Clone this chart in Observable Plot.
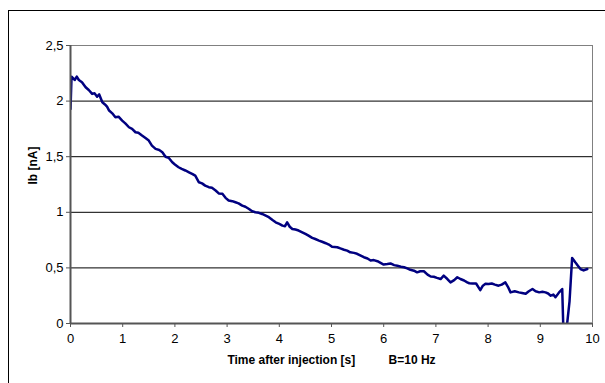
<!DOCTYPE html>
<html>
<head>
<meta charset="utf-8">
<script src="https://cdn.jsdelivr.net/npm/d3@7"></script>
<script src="https://cdn.jsdelivr.net/npm/@observablehq/plot@0.6"></script>
<style>
  html, body { margin: 0; padding: 0; background: #fff; }
  #wrap { position: relative; width: 605px; height: 383px; overflow: hidden; }
  #border { position: absolute; left: 8px; top: 10px; right: -2px; bottom: -2px; border-left: 1px solid #000; border-top: 1px solid #000; }
  #chart { position: absolute; left: 0; top: 0; }
</style>
</head>
<body>
<div id="wrap"><div id="border"></div><div id="chart"></div></div>
<script>
// Time after injection [s]
const times = [
  0, 0.02, 0.08, 0.12, 0.16, 0.22, 0.29, 0.35, 0.415, 0.46, 0.51, 0.55, 0.61, 0.66, 0.70, 0.74, 0.80, 0.86, 0.92, 0.99,
  1.05, 1.12, 1.18, 1.245, 1.30, 1.37, 1.43, 1.5, 1.56, 1.63, 1.70, 1.76, 1.82, 1.88, 1.95, 2.0, 2.07, 2.13, 2.2, 2.27,
  2.33, 2.39, 2.46, 2.52, 2.58, 2.65, 2.71, 2.78, 2.84, 2.91, 2.97, 3.03, 3.10, 3.16, 3.22, 3.29, 3.35, 3.42, 3.48, 3.54,
  3.61, 3.67, 3.74, 3.8, 3.87, 3.93, 4.0, 4.06, 4.11, 4.15, 4.20, 4.25, 4.31, 4.37, 4.44, 4.5, 4.56, 4.63, 4.69, 4.76,
  4.82, 4.89, 4.95, 5.01, 5.11, 5.17, 5.24, 5.30, 5.36, 5.43, 5.49, 5.56, 5.62, 5.69, 5.75, 5.81, 5.88, 5.94, 6.0, 6.07,
  6.13, 6.2, 6.26, 6.33, 6.39, 6.45, 6.51, 6.58, 6.64, 6.70, 6.77, 6.84, 6.9, 6.96, 7.02, 7.09, 7.15, 7.22, 7.28, 7.35,
  7.41, 7.47, 7.54, 7.60, 7.64, 7.7, 7.77, 7.85, 7.9, 7.95, 8.01, 8.07, 8.13, 8.2, 8.26, 8.33, 8.38, 8.43, 8.51, 8.59,
  8.65, 8.72, 8.78, 8.85, 8.91, 8.98, 9.04, 9.1, 9.15, 9.2, 9.25, 9.29, 9.33, 9.36, 9.42, 9.44, 9.51, 9.56, 9.61, 9.67,
  9.72, 9.77, 9.83, 9.9
];
// Ib [nA]
const currents = [
  1.93, 2.22, 2.19, 2.22, 2.19, 2.17, 2.125, 2.10, 2.065, 2.07, 2.04, 2.06, 1.99, 1.97, 1.95, 1.915, 1.89, 1.855, 1.86, 1.825,
  1.80, 1.765, 1.75, 1.72, 1.715, 1.69, 1.67, 1.645, 1.60, 1.57, 1.56, 1.54, 1.50, 1.49, 1.45, 1.43, 1.405, 1.39, 1.376, 1.36,
  1.346, 1.33, 1.27, 1.26, 1.24, 1.226, 1.22, 1.196, 1.17, 1.166, 1.13, 1.106, 1.10, 1.09, 1.08, 1.06, 1.05, 1.03, 1.01, 1.0,
  0.995, 0.985, 0.97, 0.956, 0.93, 0.91, 0.895, 0.88, 0.875, 0.91, 0.87, 0.85, 0.845, 0.836, 0.82, 0.806, 0.79, 0.77, 0.76, 0.746,
  0.735, 0.722, 0.71, 0.69, 0.686, 0.675, 0.663, 0.655, 0.64, 0.635, 0.627, 0.61, 0.596, 0.585, 0.567, 0.57, 0.56, 0.545, 0.53, 0.535,
  0.54, 0.525, 0.52, 0.51, 0.506, 0.495, 0.483, 0.475, 0.46, 0.47, 0.47, 0.44, 0.423, 0.42, 0.41, 0.40, 0.43, 0.40, 0.37, 0.39,
  0.416, 0.40, 0.387, 0.37, 0.362, 0.36, 0.36, 0.30, 0.34, 0.357, 0.355, 0.36, 0.35, 0.34, 0.35, 0.37, 0.33, 0.28, 0.29, 0.28,
  0.275, 0.267, 0.29, 0.31, 0.29, 0.28, 0.285, 0.28, 0.27, 0.25, 0.26, 0.236, 0.26, 0.28, 0.31, -0.02, -0.02, 0.20, 0.59, 0.55,
  0.52, 0.49, 0.477, 0.49
];
const xTicks = [0, 1, 2, 3, 4, 5, 6, 7, 8, 9, 10];
const xTickLabels = ["0", "1", "2", "3", "4", "5", "6", "7", "8", "9", "10"];
const yTicks = [0, 0.5, 1, 1.5, 2, 2.5];
const yTickLabels = ["0", "0,5", "1", "1,5", "2", "2,5"];
const gridValues = [0.5, 1, 1.5, 2];
const xLabel = "Time after injection [s]\u00a0\u00a0\u00a0\u00a0\u00a0\u00a0\u00a0\u00a0\u00a0\u00a0B=10 Hz";
const yLabel = "Ib [nA]";

const data = times.map((t, i) => ({t, ib: currents[i]}));
const xFmt = new Map(xTicks.map((v, i) => [v, xTickLabels[i]]));
const yFmt = new Map(yTicks.map((v, i) => [v, yTickLabels[i]]));

const chart = Plot.plot({
  width: 605,
  height: 383,
  marginLeft: 70,
  marginRight: 13,
  marginTop: 45,
  marginBottom: 60,
  style: {fontFamily: "'Liberation Sans', Arial, sans-serif", fontSize: "13px", background: "transparent", color: "#000"},
  x: {domain: [0, 10]},
  y: {domain: [0, 2.5]},
  marks: [
    Plot.ruleY(gridValues, {stroke: "#000", strokeWidth: 1}),
    Plot.ruleY([2.5], {stroke: "#808080", strokeWidth: 1}),
    Plot.ruleX([10], {stroke: "#808080", strokeWidth: 1}),
    Plot.line(data, {x: "t", y: "ib", stroke: "#000080", strokeWidth: 2.5, clip: true, strokeLinejoin: "round"}),
    Plot.ruleX([0], {stroke: "#555", strokeWidth: 2}),
    Plot.ruleY([0], {stroke: "#555", strokeWidth: 2}),
    Plot.axisX({ticks: xTicks, tickSize: 4, tickPadding: 6, tickFormat: d => xFmt.get(d), label: null, stroke: "#555"}),
    Plot.axisY({ticks: yTicks, tickSize: 4, tickPadding: 3, tickFormat: d => yFmt.get(d), label: null, stroke: "#555"}),
    Plot.text([xLabel], {text: d => d, frameAnchor: "bottom", dy: 40, fontWeight: "bold", fontSize: 12}),
    Plot.text([yLabel], {text: d => d, frameAnchor: "left", dx: -37, rotate: -90, fontWeight: "bold", fontSize: 12})
  ]
});
document.getElementById("chart").appendChild(chart);
</script>
</body>
</html>
